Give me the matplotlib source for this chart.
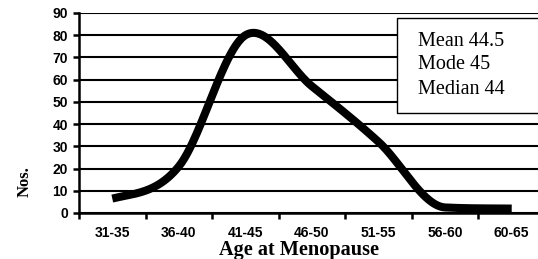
import numpy as np
import matplotlib
matplotlib.use("Agg")
import matplotlib.pyplot as plt
from matplotlib.patches import Rectangle

categories = ["31-35", "36-40", "41-45", "46-50", "51-55", "56-60", "60-65"]
values = [6.5, 21, 80, 57, 32, 2.5, 2]
stats_lines = ["Mean 44.5", "Mode 45", "Median 44"]
yticks = list(range(0, 91, 10))

W, H = 538, 259
fig = plt.figure(figsize=(W / 100, H / 100), dpi=100)
ax = fig.add_axes([79 / W, 46 / H, 466 / W, 200 / H])

# smoothed line (cubic Hermite through the data points, Catmull-Rom tangents,
# limited where the data are monotone to avoid overshoot)
x = np.arange(len(values), dtype=float)
y = np.array(values, dtype=float)
n = len(y)
d = np.diff(y)
m = np.zeros(n)
m[0] = d[0] / 2
m[-1] = d[-1] / 2
for i in range(1, n - 1):
    m[i] = (y[i + 1] - y[i - 1]) / 2
    if d[i - 1] * d[i] > 0:
        lim = 3 * min(abs(d[i - 1]), abs(d[i]))
        if abs(m[i]) > lim:
            m[i] = np.sign(m[i]) * lim
xs, ys = [], []
for i in range(n - 1):
    t = np.linspace(0, 1, 50)
    h00 = 2 * t ** 3 - 3 * t ** 2 + 1
    h10 = t ** 3 - 2 * t ** 2 + t
    h01 = -2 * t ** 3 + 3 * t ** 2
    h11 = t ** 3 - t ** 2
    seg = h00 * y[i] + h10 * m[i] + h01 * y[i + 1] + h11 * m[i + 1]
    xs.append(x[i] + t if i == 0 else (x[i] + t)[1:])
    ys.append(seg if i == 0 else seg[1:])
xs = np.concatenate(xs)
ys = np.concatenate(ys)
ax.plot(xs, ys, color="black", lw=5.8, solid_capstyle="butt", solid_joinstyle="round",
        zorder=3, clip_on=False)

ax.set_xlim(-0.5, len(categories) - 0.5)
ax.set_ylim(0, 90)
ax.set_yticks(yticks)
ax.yaxis.grid(True, color="black", lw=1.5)
ax.set_axisbelow(True)
for s in ["top", "right"]:
    ax.spines[s].set_visible(False)
for s in ["left", "bottom"]:
    ax.spines[s].set_linewidth(1.8)
    ax.spines[s].set_color("black")

ax.set_xticks(x)
ax.set_xticklabels(categories, fontfamily="Liberation Sans", fontweight="bold", fontsize=10)
ax.set_xticks(np.arange(-0.5, len(categories), 1.0), minor=True)
ax.tick_params(axis="x", which="major", length=0, pad=9.5)
ax.tick_params(axis="x", which="minor", length=4, width=1.8, direction="out")
ax.tick_params(axis="y", length=4.5, width=1.8, direction="out", pad=3.5)
for lab in ax.get_yticklabels():
    lab.set_fontfamily("Liberation Sans")
    lab.set_fontweight("bold")
    lab.set_fontsize(10)

fig.text(299 / W, 1 - 255 / H, "Age at Menopause", ha="center", va="baseline",
         fontfamily="Liberation Serif", fontweight="bold", fontsize=14.6)
fig.text(25 / W, 1 - 182 / H, "Nos.", ha="center", va="center", rotation=90,
         fontfamily="Liberation Serif", fontweight="bold", fontsize=12)

# stats box
fig.patches.append(Rectangle((397 / W, 1 - 113 / H), 150 / W, 95 / H, transform=fig.transFigure,
                             facecolor="white", edgecolor="black", lw=1.0, zorder=5))
for i, s in enumerate(stats_lines):
    fig.text(418 / W, 1 - (41 + 24 * i) / H, s, ha="left", va="center",
             fontfamily="Liberation Serif", fontsize=14.5, zorder=6)

fig.savefig("out.png", dpi=100)
